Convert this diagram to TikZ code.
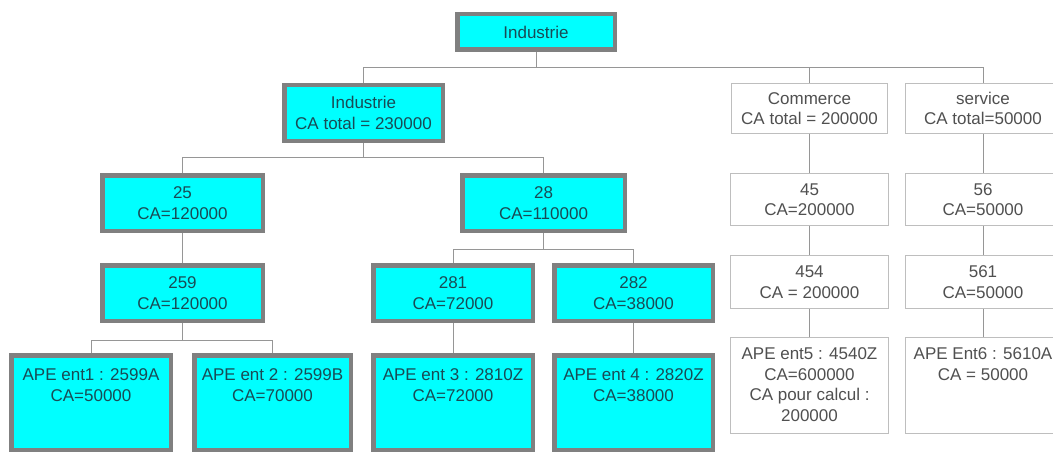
\documentclass[tikz,border=0pt]{standalone}
\usepackage{fontspec}
\setmainfont{Liberation Sans}
\definecolor{cyanf}{RGB}{0,255,255}
\definecolor{bord}{RGB}{128,128,128}
\definecolor{wbord}{RGB}{190,190,190}
\definecolor{conng}{RGB}{150,150,150}
\definecolor{ctext}{RGB}{25,75,85}
\definecolor{wtext}{RGB}{80,80,80}
\newcommand{\toptxt}[3]{\begin{minipage}[c][#1][t]{150pt}\centering\vspace*{#2}#3\end{minipage}}
\tikzset{
  basefont/.style={font=\fontsize{17}{20.5}\selectfont},
  cbox/.style={basefont, draw=bord, line width=4.5pt, fill=cyanf, text=ctext, inner sep=0pt, align=center},
  wbox/.style={basefont, draw=wbord, line width=0.9pt, fill=white, text=wtext, inner sep=0pt, align=center},
  conn/.style={draw=conng, line width=0.9pt},
}
\begin{document}
\begin{tikzpicture}[x=1pt,y=-1pt]
\useasboundingbox[fill=white] (0,0) rectangle (1053,452);
% coordinates for buses
\coordinate (bus1) at (536,67);
\coordinate (bus2) at (363.5,157);
\coordinate (bus3) at (543.5,249);
\coordinate (bus4) at (182.5,340);
% connectors (drawn first, behind the boxes)
\begin{scope}
\path (536,32) coordinate (ptop) (363.5,113) coordinate (pind) (809.5,108.5) coordinate (pcom) (983,108.5) coordinate (pser);
\end{scope}
% nodes
\node[cbox, minimum width=157.5pt, minimum height=35.5pt] (top) at (536,32) {Industrie};
\node[cbox, minimum width=158.5pt, minimum height=55.5pt] (ind) at (363.5,113) {Industrie\\CA total = 230000};
\node[wbox, minimum width=156pt, minimum height=50pt] (com) at (809.5,108.5) {Commerce\\CA total = 200000};
\node[wbox, minimum width=155pt, minimum height=50pt] (ser) at (983,108.5) {service\\CA total=50000};
\node[cbox, minimum width=160.5pt, minimum height=55.5pt] (b25) at (182.5,203) {25\\CA=120000};
\node[cbox, minimum width=162.5pt, minimum height=55.5pt] (b28) at (543.5,203) {28\\CA=110000};
\node[cbox, minimum width=160.5pt, minimum height=55.5pt] (b259) at (182.5,293) {259\\CA=120000};
\node[cbox, minimum width=159.5pt, minimum height=55.5pt] (b281) at (453,293) {281\\CA=72000};
\node[cbox, minimum width=158.5pt, minimum height=55.5pt] (b282) at (633.5,293) {282\\CA=38000};
\node[cbox, minimum width=159.5pt, minimum height=94.5pt] (e1) at (91,402.5) {\toptxt{94.5pt}{13.5pt}{APE ent1 : 2599A\\CA=50000}};
\node[cbox, minimum width=156.5pt, minimum height=94.5pt] (e2) at (272.5,402.5) {\toptxt{94.5pt}{13.5pt}{APE ent 2 : 2599B\\CA=70000}};
\node[cbox, minimum width=159.5pt, minimum height=94.5pt] (e3) at (453,402.5) {\toptxt{94.5pt}{13.5pt}{APE ent 3 : 2810Z\\CA=72000}};
\node[cbox, minimum width=158.5pt, minimum height=94.5pt] (e4) at (633.5,402.5) {\toptxt{94.5pt}{13.5pt}{APE ent 4 : 2820Z\\CA=38000}};
\node[wbox, minimum width=158pt, minimum height=52pt] (b45) at (809.5,199.5) {45\\CA=200000};
\node[wbox, minimum width=155pt, minimum height=52pt] (b56) at (983,199.5) {56\\CA=50000};
\node[wbox, minimum width=158pt, minimum height=53pt] (b454) at (809.5,282) {454\\CA = 200000};
\node[wbox, minimum width=155pt, minimum height=53pt] (b561) at (983,282) {561\\CA=50000};
\node[wbox, minimum width=158pt, minimum height=96pt] (e5) at (809.5,385.5) {\toptxt{96pt}{10.5pt}{APE ent5 : 4540Z\\CA=600000\\CA pour calcul :\\200000}};
\node[wbox, minimum width=155pt, minimum height=96pt] (e6) at (983,385.5) {\toptxt{96pt}{10.5pt}{APE Ent6 : 5610A\\CA = 50000}};
% connectors
\draw[conn] (top.south) -- (top.south |- bus1) -| (ind.north);
\draw[conn] (top.south |- bus1) -| (com.north);
\draw[conn] (top.south |- bus1) -| (ser.north);
\draw[conn] (ind.south) -- (ind.south |- bus2) -| (b25.north);
\draw[conn] (ind.south |- bus2) -| (b28.north);
\draw[conn] (b25.south) -- (b259.north);
\draw[conn] (b28.south) -- (b28.south |- bus3) -| (b281.north);
\draw[conn] (b28.south |- bus3) -| (b282.north);
\draw[conn] (b259.south) -- (b259.south |- bus4) -| (e1.north);
\draw[conn] (b259.south |- bus4) -| (e2.north);
\draw[conn] (b281.south) -- (e3.north);
\draw[conn] (b282.south) -- (e4.north);
\draw[conn] (com.south) -- (b45.north);
\draw[conn] (b45.south) -- (b454.north);
\draw[conn] (b454.south) -- (e5.north);
\draw[conn] (ser.south) -- (b56.north);
\draw[conn] (b56.south) -- (b561.north);
\draw[conn] (b561.south) -- (e6.north);
\end{tikzpicture}
\end{document}
